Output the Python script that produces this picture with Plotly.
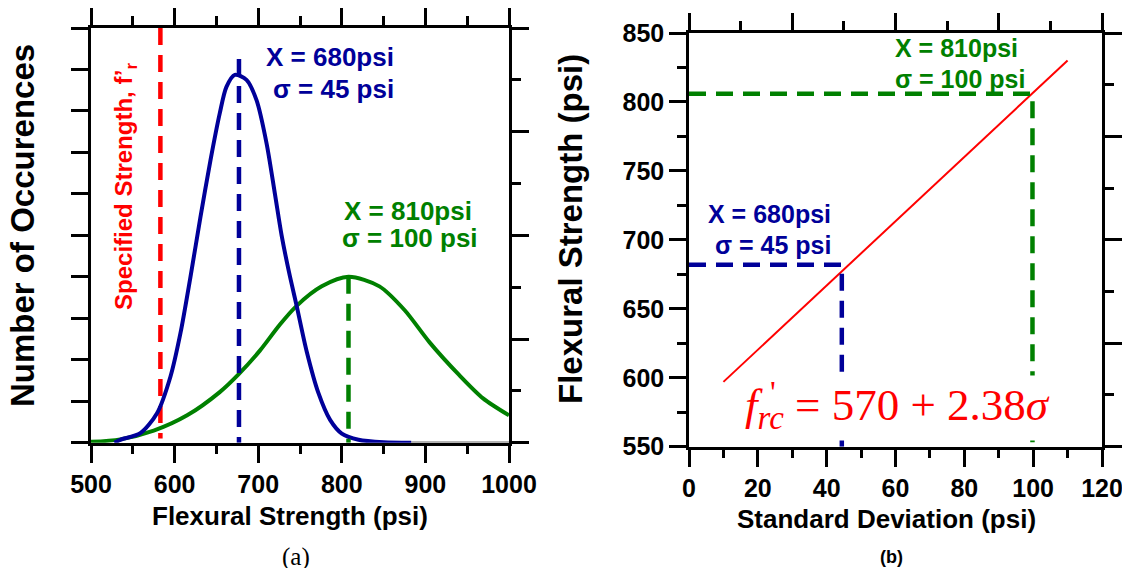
import plotly.graph_objects as go

# ---------------- data ----------------
# (a) distributions: flexural strength (psi) vs relative number of occurrences
blue_x = [528, 535, 559, 579, 595, 607, 619, 631, 643, 654, 662, 672, 686, 698, 710, 720, 728, 737, 746, 758, 772, 786, 800, 820, 850, 883]
blue_y = [0, 0.07, 0.23, 0.71, 1.59, 2.64, 4.0, 5.45, 6.82, 7.94, 8.58, 8.87, 8.75, 8.26, 7.22, 6.0, 5.0, 4.1, 3.3, 2.2, 1.2, 0.55, 0.22, 0.07, 0.01, 0]
green_x = [500, 535, 575, 615, 654, 677, 702, 726, 746, 776, 808, 845, 875, 905, 940, 969, 1000]
green_y = [0.02, 0.08, 0.29, 0.66, 1.22, 1.66, 2.22, 2.85, 3.3, 3.77, 4.0, 3.77, 3.2, 2.42, 1.64, 1.07, 0.66]
tail_x = [883, 1000]
tail_y = [0, 0]
specified_x = [583, 583]
specified_y = [10, 0.1]
mean_blue_x = [677, 677]
mean_blue_y = [9.25, 0]
mean_green_x = [808, 808]
mean_green_y = [4.0, 0]

# (b) required strength vs standard deviation
sd_x = [10, 110]
sd_y = [597, 830]
blue_h_x = [0, 44.4, 44.4]
blue_h_y = [682, 682, 550]
green_h_x = [0, 99.8, 99.8]
green_h_y = [806, 806, 550]

x_ticks_a = [500, 600, 700, 800, 900, 1000]
x_ticks_b = [0, 20, 40, 60, 80, 100, 120]
y_ticks_b = [550, 600, 650, 700, 750, 800, 850]

BLUE = "#000099"
GREEN = "#008000"
RED = "#FF0000"
SANS = "Liberation Sans, Arial, sans-serif"
SERIF = "Liberation Serif, Times New Roman, serif"
DASH = "17px,10px"

W, H = 1130, 568
OFF = 8  # page margin around the plot div


def px(xp):
    return (xp - OFF) / W


def py(yp):
    return (H - (yp - OFF)) / H


fig = go.Figure()

# ---- panel (a)
fig.add_trace(go.Scatter(x=tail_x, y=tail_y, mode="lines", line=dict(color="#9a9a9a", width=3), xaxis="x", yaxis="y"))
fig.add_trace(go.Scatter(x=specified_x, y=specified_y, mode="lines", line=dict(color=RED, width=4.5, dash=DASH), xaxis="x", yaxis="y"))
fig.add_trace(go.Scatter(x=green_x, y=green_y, mode="lines", line=dict(color=GREEN, width=4, shape="spline", smoothing=0.8), xaxis="x", yaxis="y"))
fig.add_trace(go.Scatter(x=blue_x, y=blue_y, mode="lines", line=dict(color=BLUE, width=4, shape="spline", smoothing=0.8), xaxis="x", yaxis="y"))
fig.add_trace(go.Scatter(x=mean_blue_x, y=mean_blue_y, mode="lines", line=dict(color=BLUE, width=4.5, dash=DASH), xaxis="x", yaxis="y"))
fig.add_trace(go.Scatter(x=mean_green_x, y=mean_green_y, mode="lines", line=dict(color=GREEN, width=4.5, dash=DASH), xaxis="x", yaxis="y"))
fig.add_trace(go.Scatter(x=[None], y=[None], xaxis="x3", yaxis="y3", hoverinfo="skip"))

# ---- panel (b)
fig.add_trace(go.Scatter(x=sd_x, y=sd_y, mode="lines", line=dict(color=RED, width=2), xaxis="x2", yaxis="y2"))
fig.add_trace(go.Scatter(x=blue_h_x, y=blue_h_y, mode="lines", line=dict(color=BLUE, width=4.5, dash=DASH), xaxis="x2", yaxis="y2"))
fig.add_trace(go.Scatter(x=green_h_x, y=green_h_y, mode="lines", line=dict(color=GREEN, width=4.5, dash=DASH), xaxis="x2", yaxis="y2"))
fig.add_trace(go.Scatter(x=[None], y=[None], xaxis="x4", yaxis="y4", hoverinfo="skip"))

xa_dom = [px(91), px(509)]
ya_dom = [py(442.7), py(28)]
xb_dom = [px(689), px(1102)]
yb_dom = [py(446.7), py(33)]

tickfont = dict(family=SANS, size=25, color="black", weight="bold")


def ax(**kw):
    base = dict(showline=True, linecolor="black", linewidth=2.5, showgrid=False, zeroline=False,
                ticks="outside", tickcolor="black", tickwidth=2.5, ticklen=17, layer="below traces",
                fixedrange=True, automargin=False)
    base.update(kw)
    return base


def minor(dt, t0):
    return dict(dtick=dt, tick0=t0, ticks="outside", ticklen=9, tickwidth=2.5, tickcolor="black", showgrid=False)


fig.update_layout(
    template="none",
    width=W, height=H, margin=dict(l=0, r=0, t=0, b=0, pad=0, autoexpand=False),
    paper_bgcolor="white", plot_bgcolor="white", showlegend=False,
    font=dict(family=SANS, color="black"),
    xaxis=ax(domain=xa_dom, anchor="y", range=[500, 1000], tickvals=x_ticks_a, tickfont=tickfont,
             ticklen=18, minor=minor(50, 500)),
    xaxis3=ax(domain=xa_dom, overlaying="x", anchor="y", side="top", range=[500, 1000],
              tickvals=x_ticks_a, showticklabels=False, minor=minor(50, 500)),
    yaxis=ax(domain=ya_dom, anchor="x", range=[0, 10], dtick=1, tick0=0, showticklabels=False),
    yaxis3=ax(domain=ya_dom, overlaying="y", anchor="x", side="right", range=[0, 8], dtick=2, tick0=0,
              showticklabels=False, minor=minor(1, 0)),
    xaxis2=ax(domain=xb_dom, anchor="y2", range=[0, 120], tickvals=x_ticks_b, tickfont=tickfont,
              ticklen=18, minor=minor(10, 0)),
    xaxis4=ax(domain=xb_dom, overlaying="x2", anchor="y2", side="top", range=[0, 120], dtick=30, tick0=0,
              showticklabels=False, minor=minor(15, 0)),
    yaxis2=ax(domain=yb_dom, anchor="x2", range=[550, 850], tickvals=y_ticks_b, tickfont=tickfont,
              minor=minor(25, 550)),
    yaxis4=ax(domain=yb_dom, overlaying="y2", anchor="x2", side="right", range=[0, 8], dtick=2, tick0=0,
              showticklabels=False, minor=minor(1, 0)),
)

lab = dict(family=SANS, size=26, weight="bold")
labb = dict(family=SANS, size=25, weight="bold")
ann = [
    # panel (a) labels
    dict(x=786, y=9.3, xref="x", yref="y", text="X = 680psi", font=dict(lab, color=BLUE)),
    dict(x=790, y=8.53, xref="x", yref="y", text="σ = 45 psi", font=dict(lab, color=BLUE)),
    dict(x=879, y=5.59, xref="x", yref="y", text="X = 810psi", font=dict(lab, color=GREEN)),
    dict(x=882, y=4.93, xref="x", yref="y", text="σ = 100 psi", font=dict(lab, color=GREEN)),
    dict(x=542, y=6.17, xref="x", yref="y", text="Specified Strength, f’<sub>r</sub>", textangle=-90,
         font=dict(family=SANS, size=24, weight="bold", color=RED)),
    # panel (b) labels
    dict(x=59.3, y=839, xref="x2", yref="y2", xanchor="left", text="X = 810psi", font=dict(labb, color=GREEN)),
    dict(x=59.3, y=817, xref="x2", yref="y2", xanchor="left", text="σ = 100 psi", font=dict(labb, color=GREEN)),
    dict(x=41.8, y=718.6, xref="x2", yref="y2", xanchor="right", text="X = 680psi", font=dict(labb, color=BLUE)),
    dict(x=41.8, y=696, xref="x2", yref="y2", xanchor="right", text="σ = 45 psi", font=dict(labb, color=BLUE)),
    dict(x=60.6, y=578, xref="x2", yref="y2",
         text="<i>f</i><sub><i><span style='font-size:33px'>rc</span></i></sub> = 570 + 2.38<i>σ</i>",
         bgcolor="white", borderpad=4,
         font=dict(family=SERIF, size=45, color=RED)),
    dict(x=24.5, y=590, xref="x2", yref="y2", text="'", font=dict(family=SERIF, size=32, color=RED)),
    # axis titles
    dict(x=px(22), y=py(226), xref="paper", yref="paper", text="Number of Occurences", textangle=-90,
         font=dict(family=SANS, size=33, color="black", weight="bold")),
    dict(x=px(570), y=py(229), xref="paper", yref="paper", text="Flexural Strength (psi)", textangle=-90,
         font=dict(family=SANS, size=33, color="black", weight="bold")),
    dict(x=px(290), y=py(516), xref="paper", yref="paper", text="Flexural Strength (psi)",
         font=dict(family=SANS, size=26, color="black", weight="bold")),
    dict(x=px(886), y=py(519), xref="paper", yref="paper", text="Standard Deviation (psi)",
         font=dict(family=SANS, size=26, color="black", weight="bold")),
    # panel labels
    dict(x=px(296), y=py(557), xref="paper", yref="paper", text="(a)",
         font=dict(family=SERIF, size=25, color="black")),
    dict(x=px(891), y=py(557), xref="paper", yref="paper", text="(b)",
         font=dict(family=SANS, size=18, color="black", weight="bold")),
]
for a in ann:
    a.setdefault("showarrow", False)
    a.setdefault("xanchor", "center")
    a.setdefault("yanchor", "middle")
fig.update_layout(annotations=ann)

fig.write_html("out.html")
